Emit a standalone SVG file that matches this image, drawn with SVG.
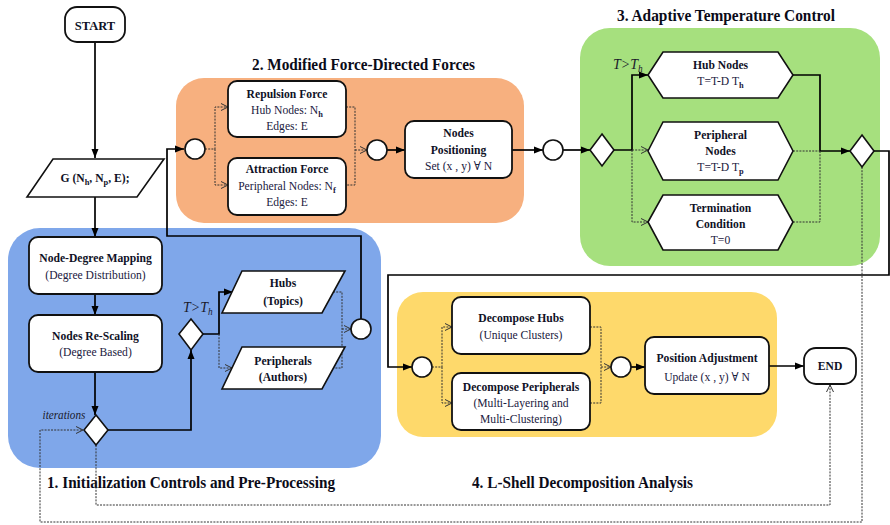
<svg xmlns="http://www.w3.org/2000/svg" width="890" height="525" viewBox="0 0 890 525">
  <defs>
    <style>
      .b { font-family: "Liberation Serif", "Times New Roman", "DejaVu Serif", serif; font-weight: bold; font-size: 12.5px; text-anchor: middle; fill: #0f1126; }
      .r { font-family: "Liberation Serif", "Times New Roman", "DejaVu Serif", serif; font-size: 12.5px; text-anchor: middle; fill: #1a2040; }
      .it { font-family: "Liberation Serif", "Times New Roman", serif; font-style: italic; fill: #1a1a2a; }
      .sx { transform-box: fill-box; transform-origin: center; transform: scaleX(0.93); }
      .ttl { font-family: "Liberation Serif", "Times New Roman", serif; font-weight: bold; font-size: 17px; fill: #0b0b18; }
      .box { fill: #fff; stroke: #111; stroke-width: 1.8; }
      .sh { fill: #fff; stroke: #111; stroke-width: 1.6; }
      .sol { fill: none; stroke: #000; stroke-width: 1.7; }
      .dot { fill: none; stroke: #333; stroke-width: 1; stroke-dasharray: 2 1.2; }
    </style>
    <marker id="ah" markerWidth="10" markerHeight="8" refX="9" refY="4" orient="auto" markerUnits="userSpaceOnUse">
      <path d="M0,0.5 L9,4 L0,7.5 z" fill="#000"/>
    </marker>
    <marker id="oh" markerWidth="10" markerHeight="10" refX="8" refY="5" orient="auto" markerUnits="userSpaceOnUse">
      <path d="M1,1.5 L8,5 L1,8.5" fill="none" stroke="#333" stroke-width="1"/>
    </marker>
  </defs>

  <rect width="890" height="525" fill="#fff"/>

  <!-- stage panels -->
  <g id="panels">
    <rect x="176" y="78" width="348" height="145" rx="28" fill="#F7B07F"/>
    <rect x="8" y="228" width="373" height="240" rx="32" fill="#7FA7EA"/>
    <rect x="580" y="28" width="300" height="238" rx="30" fill="#A6E07E"/>
    <rect x="397" y="292" width="380" height="145" rx="26" fill="#FED96B"/>
  </g>

  <!-- stage titles -->
  <g id="titles">
    <text class="ttl" x="252" y="70" textLength="223" lengthAdjust="spacingAndGlyphs">2. Modified Force-Directed Forces</text>
    <text class="ttl" x="617" y="21" textLength="218" lengthAdjust="spacingAndGlyphs">3. Adaptive Temperature Control</text>
    <text class="ttl" x="47" y="488" textLength="288" lengthAdjust="spacingAndGlyphs">1. Initialization Controls and Pre-Processing</text>
    <text class="ttl" x="472" y="488" textLength="221" lengthAdjust="spacingAndGlyphs">4. L-Shell Decomposition Analysis</text>
  </g>

  <!-- connectors -->
  <g id="connectors">
    <path class="sol" d="M95,42 V158" marker-end="url(#ah)"/>
    <path class="sol" d="M95,197 V237" marker-end="url(#ah)"/>
    <path class="sol" d="M95,294 V315" marker-end="url(#ah)"/>
    <path class="sol" d="M95,372 V415" marker-end="url(#ah)"/>
    <path class="sol" d="M108,430 H191 V350" marker-end="url(#ah)"/>
    <path class="sol" d="M203,334 H219 V292 H233" marker-end="url(#ah)"/>
    <path class="sol" d="M361,319 V236 H167 V149 H184" marker-end="url(#ah)"/>
    <path class="sol" d="M387,150 H405" marker-end="url(#ah)"/>
    <path class="sol" d="M512,150 H543" marker-end="url(#ah)"/>
    <path class="sol" d="M563,150 H590" marker-end="url(#ah)"/>
    <path class="sol" d="M614,150 H632 V75 H648" marker-end="url(#ah)"/>
    <path class="sol" d="M793,75 H820 V151 H850" marker-end="url(#ah)"/>
    <path class="sol" d="M874,151 H889 V275 H388 V367 H412" stroke="#222" marker-end="url(#ah)"/>
    <path class="sol" d="M631,367 H645" marker-end="url(#ah)"/>
    <path class="sol" d="M769,366 H804" marker-end="url(#ah)"/>

    <!-- loop back / exit paths -->
    <path class="dot" d="M862,167 V522 H40 V430 H83" marker-end="url(#oh)"/>
    <path class="dot" d="M96,445 V505 H830 V385" marker-end="url(#oh)"/>

    <!-- stage 1 split -->
    <path class="dot" d="M219,334 V368 H232" marker-end="url(#oh)"/>
    <path class="dot" d="M333,292 H342 V368 H333"/>
    <path class="dot" d="M342,329 H351" marker-end="url(#oh)"/>

    <!-- stage 2 split -->
    <path class="dot" d="M205,149 H215 V107 H228" marker-end="url(#oh)"/>
    <path class="dot" d="M215,149 V185 H228" marker-end="url(#oh)"/>
    <path class="dot" d="M346,107 H355 V185 H346"/>
    <path class="dot" d="M355,150 H367" marker-end="url(#oh)"/>

    <!-- stage 3 split -->
    <path class="dot" d="M632,150 H648" marker-end="url(#oh)"/>
    <path class="dot" d="M632,150 V222 H648" marker-end="url(#oh)"/>
    <path class="dot" d="M793,151 H820"/>
    <path class="dot" d="M793,222 H820 V151"/>

    <!-- stage 4 split -->
    <path class="dot" d="M432,367 H442 V327 H452" marker-end="url(#oh)"/>
    <path class="dot" d="M442,367 V403 H452" marker-end="url(#oh)"/>
    <path class="dot" d="M590,327 H601 V403 H590"/>
    <path class="dot" d="M601,367 H611" marker-end="url(#oh)"/>
  </g>

  <!-- terminals -->
  <g id="start">
    <rect class="box" x="65" y="7" width="60" height="35" rx="12"/>
    <text class="b" x="95" y="29.5" font-size="14">START</text>
  </g>
  <g id="end">
    <rect class="box" x="804" y="348" width="52" height="36" rx="12"/>
    <text class="b sx" x="830" y="370">END</text>
  </g>

  <!-- input graph -->
  <g id="graph-input">
    <polygon class="sh" points="53,159 164,159 137,197 27,197"/>
    <text class="b sx" x="95" y="182">G (N<tspan font-size="9" dy="3">h</tspan><tspan dy="-3">, N</tspan><tspan font-size="9" dy="3">p</tspan><tspan dy="-3">, E);</tspan></text>
  </g>

  <!-- stage 1 -->
  <g id="node-degree-mapping">
    <rect class="box" x="29" y="237" width="133" height="57" rx="9"/>
    <text class="b sx" x="95.5" y="262">Node-Degree Mapping</text>
    <text class="r sx" x="95.5" y="279">(Degree Distribution)</text>
  </g>
  <g id="nodes-rescaling">
    <rect class="box" x="29" y="315" width="133" height="57" rx="9"/>
    <text class="b sx" x="95.5" y="340">Nodes Re-Scaling</text>
    <text class="r sx" x="95.5" y="356">(Degree Based)</text>
  </g>
  <g id="iterations-decision">
    <polygon class="sh" points="96,415 108,430 96,445 84,430"/>
    <text class="it sx" x="41" y="419" font-size="12">iterations</text>
  </g>
  <g id="threshold-decision">
    <polygon class="sh" points="191,319 203,334 191,350 179,334"/>
    <text class="it sx" x="182" y="312" font-size="15">T&gt;T<tspan font-size="10" dy="3">h</tspan></text>
  </g>
  <g id="hubs">
    <polygon class="sh" points="242,271 345,271 322,313 222,313"/>
    <text class="b sx" x="283" y="287">Hubs</text>
    <text class="b sx" x="283" y="305">(Topics)</text>
  </g>
  <g id="peripherals">
    <polygon class="sh" points="242,347 345,347 322,389 222,389"/>
    <text class="b sx" x="283" y="365">Peripherals</text>
    <text class="b sx" x="283" y="381">(Authors)</text>
  </g>
  <g id="merge-1">
    <circle class="sh" cx="361" cy="329" r="10"/>
  </g>

  <!-- stage 2 -->
  <g id="split-2">
    <circle class="sh" cx="195" cy="149" r="10"/>
  </g>
  <g id="repulsion-force">
    <rect class="box" x="228" y="81" width="118" height="56" rx="9"/>
    <text class="b sx" x="287" y="98">Repulsion Force</text>
    <text class="r sx" x="287" y="114">Hub Nodes: N<tspan font-size="9" dy="3" font-weight="bold">h</tspan></text>
    <text class="r sx" x="287" y="130">Edges: E</text>
  </g>
  <g id="attraction-force">
    <rect class="box" x="228" y="158" width="118" height="57" rx="9"/>
    <text class="b sx" x="287" y="173">Attraction Force</text>
    <text class="r sx" x="287" y="190">Peripheral Nodes: N<tspan font-size="9" dy="3" font-weight="bold">f</tspan></text>
    <text class="r sx" x="287" y="206">Edges: E</text>
  </g>
  <g id="merge-2">
    <circle class="sh" cx="377" cy="150" r="10"/>
  </g>
  <g id="nodes-positioning">
    <rect class="box" x="405" y="121" width="107" height="57" rx="9"/>
    <text class="b sx" x="458.5" y="137">Nodes</text>
    <text class="b sx" x="458.5" y="154">Positioning</text>
    <text class="r sx" x="458.5" y="170">Set (x , y) ∀ N</text>
  </g>
  <g id="junction-2-3">
    <circle class="sh" cx="553" cy="150" r="10"/>
  </g>

  <!-- stage 3 -->
  <g id="temperature-decision">
    <polygon class="sh" points="602,134 614,150 602,166 590,150"/>
    <text class="it sx" x="612" y="69" font-size="15">T&gt;T<tspan font-size="10" dy="3">h</tspan></text>
  </g>
  <g id="hub-nodes">
    <polygon class="sh" points="648,75 663,52 778,52 793,75 778,98 663,98"/>
    <text class="b sx" x="720.5" y="69">Hub Nodes</text>
    <text class="r sx" x="720.5" y="85">T=T-D T<tspan font-size="9" dy="3" font-weight="bold">h</tspan></text>
  </g>
  <g id="peripheral-nodes">
    <polygon class="sh" points="648,151 663,122 778,122 793,151 778,180 663,180"/>
    <text class="b sx" x="720.5" y="139">Peripheral</text>
    <text class="b sx" x="720.5" y="155">Nodes</text>
    <text class="r sx" x="720.5" y="171">T=T-D T<tspan font-size="9" dy="3" font-weight="bold">p</tspan></text>
  </g>
  <g id="termination-condition">
    <polygon class="sh" points="648,222 663,195 778,195 793,222 778,250 663,250"/>
    <text class="b sx" x="720.5" y="212">Termination</text>
    <text class="b sx" x="720.5" y="228">Condition</text>
    <text class="r sx" x="720.5" y="244">T=0</text>
  </g>
  <g id="exit-decision">
    <polygon class="sh" points="862,135 874,151 862,167 850,151"/>
  </g>

  <!-- stage 4 -->
  <g id="split-4">
    <circle class="sh" cx="422" cy="367" r="10"/>
  </g>
  <g id="decompose-hubs">
    <rect class="box" x="452" y="297" width="138" height="57" rx="9"/>
    <text class="b sx" x="521" y="322">Decompose Hubs</text>
    <text class="r sx" x="521" y="339">(Unique Clusters)</text>
  </g>
  <g id="decompose-peripherals">
    <rect class="box" x="452" y="373" width="138" height="57" rx="9"/>
    <text class="b sx" x="521" y="391">Decompose Peripherals</text>
    <text class="r sx" x="521" y="407">(Multi-Layering and</text>
    <text class="r sx" x="521" y="423">Multi-Clustering)</text>
  </g>
  <g id="merge-4">
    <circle class="sh" cx="621" cy="367" r="10"/>
  </g>
  <g id="position-adjustment">
    <rect class="box" x="645" y="337" width="124" height="57" rx="9"/>
    <text class="b sx" x="707" y="362">Position Adjustment</text>
    <text class="r sx" x="707" y="381">Update (x , y) ∀ N</text>
  </g>
</svg>
